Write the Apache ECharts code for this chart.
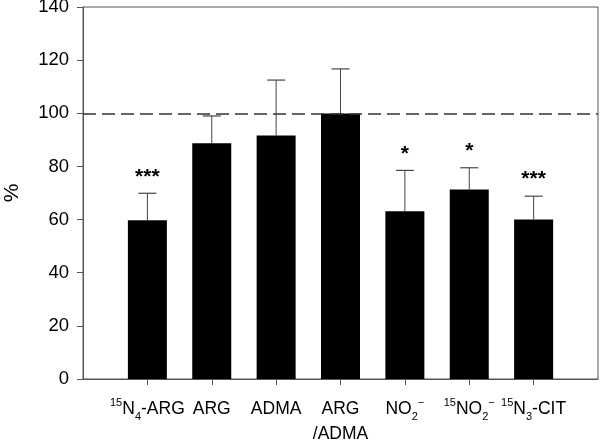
<!DOCTYPE html>
<html>
<head>
<meta charset="utf-8">
<script src="https://cdn.jsdelivr.net/npm/echarts@6/dist/echarts.min.js"></script>
<style>html,body{margin:0;padding:0;background:#fff}#c{width:600px;height:441px}</style>
</head>
<body>
<div id="c"></div>
<script>
// Categories (rich-text tick labels) 
const categories = ['15N4-ARG', 'ARG', 'ADMA', 'ARG/ADMA', 'NO2-', '15NO2-', '15N3-CIT'];
const tickLabels = [
  '{sup|15}{n|N}{sub|4}{n|-ARG}',
  '{n|ARG}',
  '{n|ADMA}',
  '{n|ARG}\n{n|/ADMA}',
  '{n|NO}{sub|2}{sup|\u2212}',
  '{sup|15}{n|NO}{sub|2}{sup|\u2212}',
  '{sup|15}{n|N}{sub|3}{n|-CIT}'
];
const means = [59.7, 88.7, 91.6, 99.9, 63.1, 71.3, 60.0];
const errors = [10.2, 10.3, 20.9, 16.8, 15.4, 8.2, 8.8];
const stars = ['***', '', '', '', '*', '*', '***'];
const refLine = 100;
const yTicks = [0, 20, 40, 60, 80, 100, 120, 140];

const axisData = [''].concat(tickLabels, ['']);
const barData = [null].concat(means, [null]);
const errData = means.map((m, i) => [i + 1, m, m + errors[i], stars[i]]);

const chart = echarts.init(document.getElementById('c'), null, {renderer: 'canvas'});
const FONT = 'Liberation Sans, Arial, sans-serif';
chart.setOption({
  animation: false,
  grid: {left: 83, right: 2, top: 7, bottom: 62, containLabel: false, outerBoundsMode: 'none', show: true, borderColor: '#555', borderWidth: 1, backgroundColor: 'transparent'},
  xAxis: {
    type: 'category',
    data: axisData,
    boundaryGap: false,
    axisLine: {lineStyle: {color: '#555', width: 1}},
    axisTick: {length: 6, lineStyle: {color: '#555'}, interval: (i) => i > 0 && i < axisData.length - 1},
    axisLabel: {
      interval: 0, margin: 18, color: '#000', hideOverlap: false,
      formatter: (v) => v,
      rich: {
        n: {fontSize: 17.5, fontFamily: FONT, color: '#000', lineHeight: 25},
        sup: {fontSize: 11, fontFamily: FONT, color: '#000', lineHeight: 11, verticalAlign: 'top'},
        sub: {fontSize: 11, fontFamily: FONT, color: '#000', lineHeight: 11, verticalAlign: 'bottom'}
      }
    },
    splitLine: {show: false}
  },
  yAxis: {
    type: 'value', min: yTicks[0], max: yTicks[yTicks.length - 1], interval: 20,
    name: '%', nameLocation: 'middle', nameGap: 60, nameRotate: 90,
    nameTextStyle: {fontSize: 21, fontFamily: FONT, color: '#000'},
    axisLine: {show: true, lineStyle: {color: '#555', width: 1}},
    axisTick: {show: true, length: 6, lineStyle: {color: '#555'}},
    axisLabel: {margin: 14, fontSize: 18.5, fontFamily: FONT, color: '#000'},
    splitLine: {show: false}
  },
  series: [
    {
      type: 'bar', data: barData, barWidth: 39,
      itemStyle: {color: '#000'},
      markLine: {
        symbol: 'none', silent: true, animation: false,
        label: {show: false},
        lineStyle: {type: [13, 6], color: '#333', width: 1.5},
        data: [{yAxis: refLine}]
      }
    },
    {
      type: 'custom', data: errData, z: 5,
      renderItem: function (params, api) {
        const x = api.value(0);
        const base = api.coord([x, api.value(1)]);
        const top = api.coord([x, api.value(2)]);
        const star = errData[params.dataIndex][3];
        const children = [
          {type: 'line', shape: {x1: base[0], y1: base[1], x2: top[0], y2: top[1]}, style: {stroke: '#444', lineWidth: 1}},
          {type: 'line', shape: {x1: top[0] - 9, y1: top[1], x2: top[0] + 9, y2: top[1]}, style: {stroke: '#444', lineWidth: 1.2}}
        ];
        if (star) {
          children.push({type: 'text', style: {text: star, x: top[0], y: top[1] - 6, align: 'center', verticalAlign: 'bottom', font: 'bold 21px ' + FONT, fill: '#000'}});
        }
        return {type: 'group', children: children};
      }
    }
  ]
});
</script>
</body>
</html>
